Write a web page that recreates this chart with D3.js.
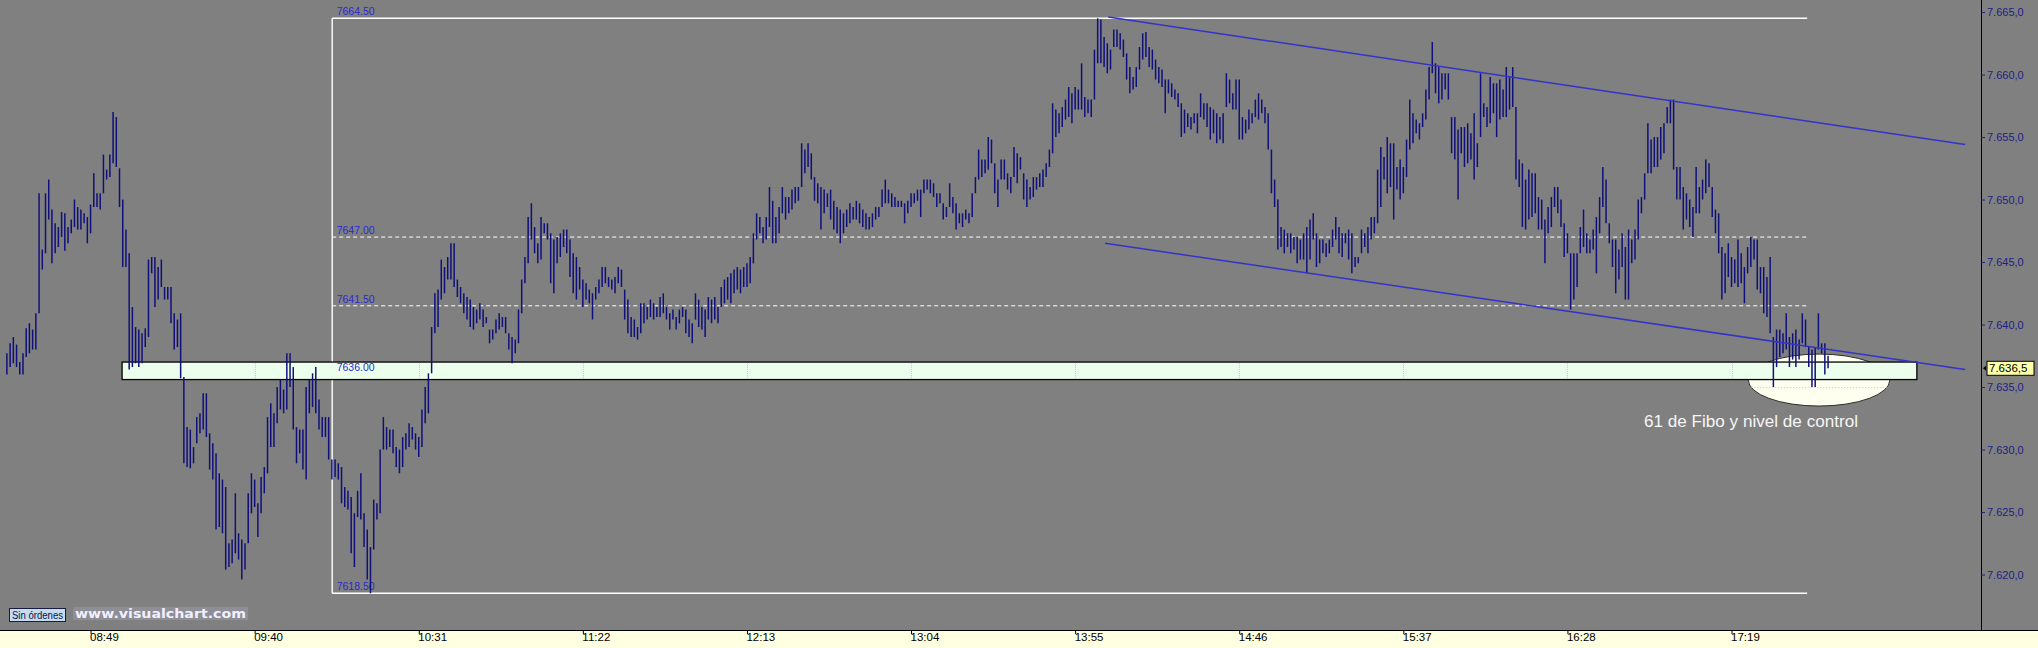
<!DOCTYPE html>
<html><head><meta charset="utf-8">
<script src="https://cdn.jsdelivr.net/npm/d3@7"></script>
<style>html,body{margin:0;padding:0;background:#808080;overflow:hidden}</style>
</head><body><svg id="c" width="2038" height="648"></svg>
<script>
// ---------------- DATA ----------------
const sessionStart = "08:23";          // time of first 1-minute bar
const highs = [
7637.7,7638.5,7639.0,7638.4,7637.0,7637.7,7639.7,7640.1,7639.6,7640.9,
7650.5,7646.0,7650.5,7651.6,7649.2,7648.1,7647.8,7649.0,7648.9,7647.8,
7648.4,7650.0,7649.4,7649.2,7648.9,7648.6,7649.6,7652.1,7650.5,7650.5,
7653.6,7652.4,7653.6,7657.0,7656.6,7652.5,7650.0,7647.6,7645.7,7641.4,
7639.8,7639.6,7639.3,7639.7,7645.2,7645.4,7645.4,7644.6,7645.2,7643.0,
7643.0,7643.0,7640.9,7640.4,7640.9,7635.8,7631.8,7631.6,7630.2,7632.6,
7632.9,7634.5,7634.5,7631.3,7630.5,7629.7,7628.1,7627.6,7627.0,7622.5,
7622.8,7626.5,7623.3,7622.8,7622.5,7626.5,7628.1,7627.6,7625.7,7627.8,
7628.6,7632.6,7633.7,7632.9,7635.0,7635.6,7634.8,7637.7,7637.7,7636.6,
7631.8,7631.6,7631.6,7635.0,7635.6,7636.1,7636.6,7634.0,7632.6,7632.6,
7632.6,7629.2,7629.2,7628.9,7628.6,7627.0,7626.7,7626.2,7624.9,7626.7,
7628.1,7624.9,7623.6,7622.2,7626.0,7625.7,7630.0,7632.6,7631.8,7631.6,
7631.6,7630.2,7630.0,7631.0,7631.3,7632.1,7631.8,7631.3,7631.0,7633.2,
7635.0,7636.1,7639.8,7642.5,7642.8,7645.2,7644.6,7645.4,7646.5,7646.5,
7643.6,7643.0,7642.5,7642.2,7642.0,7641.4,7641.2,7641.7,7641.2,7640.6,
7639.6,7639.6,7640.4,7640.9,7640.6,7640.6,7639.3,7639.0,7638.8,7641.2,
7643.6,7645.4,7648.6,7649.7,7647.8,7646.5,7648.6,7648.1,7648.1,7647.3,
7646.8,7647.0,7647.3,7647.6,7647.6,7646.8,7645.7,7645.4,7644.6,7643.6,
7643.3,7642.8,7642.5,7643.0,7643.6,7644.6,7644.6,7643.8,7643.6,7643.8,
7644.6,7644.4,7642.8,7642.0,7640.6,7640.4,7639.8,7641.7,7641.7,7641.4,
7642.0,7641.7,7641.4,7642.2,7642.5,7641.4,7640.9,7641.2,7640.6,7641.2,
7641.4,7641.2,7640.4,7640.1,7642.5,7642.0,7641.4,7641.2,7642.2,7642.0,
7642.2,7641.4,7643.0,7643.6,7643.8,7644.1,7644.4,7644.6,7644.4,7644.6,
7644.9,7645.4,7647.3,7648.9,7648.6,7647.8,7648.6,7651.0,7649.9,7648.6,
7649.4,7651.0,7650.2,7650.2,7650.8,7651.0,7651.0,7654.5,7654.0,7654.5,
7653.7,7651.8,7651.3,7651.0,7650.8,7650.5,7650.8,7649.9,7649.4,7649.2,
7648.9,7649.2,7649.7,7649.4,7649.9,7649.7,7649.2,7648.9,7648.6,7648.9,
7649.4,7649.4,7650.8,7651.6,7650.8,7650.5,7650.2,7649.9,7649.9,7649.7,
7649.9,7650.5,7650.5,7650.8,7650.8,7651.6,7651.6,7651.6,7651.3,7650.5,
7650.5,7649.7,7649.4,7651.3,7650.2,7649.7,7648.9,7648.9,7649.2,7648.9,
7650.5,7651.8,7654.0,7653.2,7653.2,7655.0,7654.8,7652.9,7651.6,7653.2,
7653.2,7652.1,7651.8,7654.2,7653.7,7653.4,7652.1,7651.6,7651.0,7651.8,
7651.8,7652.1,7652.4,7652.9,7654.0,7657.7,7657.2,7656.9,7657.4,7658.0,
7659.0,7658.5,7659.0,7658.8,7660.9,7658.2,7658.0,7658.0,7662.0,7664.5,
7664.4,7663.0,7662.5,7662.0,7663.6,7663.6,7663.3,7662.8,7661.7,7660.6,
7659.8,7660.6,7662.2,7663.3,7663.4,7662.2,7662.0,7661.2,7660.6,7660.4,
7659.6,7659.6,7659.3,7658.8,7658.5,7657.7,7657.2,7656.9,7656.6,7656.9,
7656.9,7658.5,7657.7,7657.7,7657.4,7657.2,7656.9,7656.6,7656.9,7660.1,
7659.6,7658.5,7659.6,7659.6,7656.6,7656.4,7657.2,7656.9,7658.0,7658.5,
7658.0,7657.4,7656.9,7654.0,7651.6,7650.0,7647.8,7647.6,7647.3,7647.3,
7647.0,7647.0,7646.8,7647.3,7647.8,7648.4,7648.9,7647.3,7646.8,7646.8,
7646.5,7646.8,7647.6,7648.6,7647.8,7647.3,7647.3,7647.6,7647.3,7645.4,
7645.4,7647.6,7647.3,7647.8,7648.6,7648.6,7652.4,7654.2,7653.4,7655.0,
7654.5,7654.5,7652.6,7653.2,7652.6,7654.8,7658.0,7656.9,7656.4,7656.1,
7656.9,7658.8,7660.6,7662.6,7660.9,7660.6,7660.1,7660.1,7660.1,7656.6,
7656.6,7655.6,7655.8,7655.8,7656.1,7655.3,7656.9,7654.5,7660.1,7657.7,
7657.4,7659.8,7659.3,7659.3,7659.6,7658.8,7660.6,7659.8,7660.6,7657.4,
7653.2,7652.9,7651.6,7652.4,7652.1,7652.1,7650.2,7650.0,7648.4,7649.4,
7650.2,7651.0,7651.0,7650.0,7648.1,7647.3,7645.7,7645.7,7645.7,7647.8,
7649.2,7647.3,7646.8,7647.6,7648.6,7650.2,7652.6,7651.6,7648.1,7646.8,
7646.8,7646.0,7647.3,7646.2,7647.6,7646.8,7647.6,7650.0,7650.2,7652.1,
7656.1,7654.8,7655.0,7655.0,7655.8,7656.1,7657.4,7658.0,7658.0,7652.6,
7652.6,7651.0,7650.5,7650.0,7649.4,7652.6,7651.0,7651.6,7653.2,7652.9,
7651.0,7649.2,7648.9,7646.2,7645.7,7646.5,7645.4,7645.2,7646.8,7645.7,
7644.6,7646.2,7647.0,7646.8,7646.8,7644.6,7644.6,7643.8,7645.4,7639.0,
7639.6,7639.6,7639.3,7640.9,7639.0,7639.3,7639.6,7638.8,7640.9,7640.4,
7638.2,7638.0,7638.2,7640.9,7638.5,7638.5,7637.5
];
const lows = [
7636.0,7636.6,7636.9,7636.6,7636.0,7636.0,7637.4,7637.7,7638.0,7638.0,
7640.9,7644.4,7645.7,7648.4,7644.9,7645.7,7646.2,7647.0,7645.9,7646.5,
7647.3,7647.8,7647.6,7647.6,7648.1,7646.5,7647.3,7649.4,7649.4,7649.2,
7650.5,7651.6,7651.8,7652.9,7652.6,7649.4,7644.6,7644.6,7636.4,7636.6,
7636.9,7636.6,7636.9,7638.2,7639.0,7644.1,7641.4,7642.0,7643.0,7642.0,
7642.0,7640.1,7638.0,7638.2,7635.7,7628.9,7628.6,7628.5,7628.9,7630.5,
7631.3,7631.6,7631.0,7628.4,7627.6,7623.6,7623.8,7623.3,7620.4,7620.6,
7620.9,7621.7,7621.2,7619.6,7620.4,7622.5,7624.9,7625.4,7623.0,7624.9,
7626.5,7628.1,7630.2,7630.2,7632.1,7633.2,7632.9,7633.2,7635.0,7631.6,
7628.9,7629.7,7628.4,7627.6,7632.9,7633.4,7632.9,7631.6,7631.0,7631.0,
7629.2,7627.6,7627.8,7627.6,7625.7,7625.4,7625.2,7621.7,7620.6,7624.6,
7624.4,7622.2,7619.6,7618.5,7622.0,7624.4,7624.9,7630.0,7630.0,7630.2,
7629.7,7628.6,7628.1,7628.6,7630.0,7630.2,7630.8,7630.0,7629.4,7630.2,
7632.1,7632.9,7636.1,7639.3,7639.8,7642.0,7642.5,7643.6,7643.6,7643.0,
7642.2,7641.7,7640.9,7640.4,7639.8,7639.6,7640.1,7640.4,7639.8,7640.1,
7638.5,7638.8,7639.3,7639.6,7639.8,7639.3,7638.0,7636.9,7637.7,7638.5,
7640.9,7643.3,7644.9,7646.8,7645.7,7644.9,7645.2,7647.3,7646.8,7643.3,
7642.5,7644.9,7645.4,7646.2,7645.7,7643.8,7642.5,7642.0,7642.8,7641.4,
7642.0,7641.7,7640.4,7642.0,7642.5,7643.0,7643.3,7643.0,7642.8,7642.5,
7643.3,7643.0,7640.4,7639.3,7639.0,7639.0,7638.8,7639.3,7640.1,7640.4,
7640.6,7640.4,7640.6,7640.6,7640.9,7640.4,7639.6,7640.4,7639.6,7640.1,
7640.6,7639.3,7639.0,7638.5,7640.4,7639.8,7639.6,7639.0,7640.4,7640.1,
7640.4,7640.1,7641.4,7641.7,7642.0,7641.7,7642.5,7642.8,7642.5,7643.0,
7643.0,7643.3,7644.9,7646.8,7647.3,7646.5,7646.8,7647.8,7646.5,7646.5,
7647.3,7648.9,7648.4,7648.9,7649.2,7649.7,7649.9,7651.0,7652.1,7652.6,
7651.6,7649.9,7649.7,7647.6,7648.9,7649.4,7648.4,7647.6,7647.3,7646.5,
7647.3,7647.8,7648.1,7648.4,7648.4,7648.1,7647.8,7647.6,7647.6,7647.8,
7648.4,7648.6,7649.4,7649.7,7649.7,7649.4,7649.4,7649.4,7649.4,7648.1,
7648.9,7649.4,7649.7,7649.9,7648.6,7650.5,7650.8,7650.5,7650.2,7649.4,
7649.7,7648.4,7648.6,7649.4,7648.9,7647.6,7648.1,7647.8,7648.4,7648.1,
7648.6,7650.5,7651.6,7651.8,7652.1,7652.4,7652.9,7650.5,7649.4,7651.6,
7651.6,7650.8,7650.5,7651.8,7651.3,7652.4,7650.0,7649.4,7650.0,7650.2,
7650.8,7651.0,7651.0,7651.8,7652.6,7653.7,7655.0,7655.3,7655.8,7656.4,
7656.6,7656.1,7657.2,7657.2,7657.2,7656.6,7656.9,7656.6,7658.0,7660.9,
7660.9,7660.6,7660.1,7660.4,7662.2,7662.2,7662.0,7661.4,7659.6,7658.5,
7658.8,7659.0,7660.4,7661.2,7661.4,7660.6,7660.4,7659.6,7659.3,7659.0,
7656.9,7658.5,7658.2,7658.0,7657.4,7655.0,7655.3,7655.8,7655.6,7656.1,
7655.3,7656.6,7656.4,7655.8,7654.8,7655.3,7654.5,7654.8,7654.5,7657.4,
7657.7,7657.2,7657.2,7654.8,7654.8,7655.3,7655.6,7656.1,7656.6,7656.4,
7656.9,7656.1,7654.0,7650.5,7649.4,7646.0,7646.2,7645.7,7646.2,7645.7,
7646.0,7644.9,7645.2,7645.2,7644.1,7645.2,7646.8,7644.6,7644.9,7645.7,
7645.4,7645.7,7646.2,7646.8,7645.7,7645.4,7646.5,7645.2,7644.1,7644.6,
7644.9,7645.7,7646.2,7645.7,7646.8,7647.3,7648.1,7649.4,7651.6,7650.5,
7651.0,7648.4,7650.8,7650.0,7650.5,7651.8,7654.0,7654.5,7655.3,7654.8,
7655.8,7656.4,7658.0,7660.1,7658.5,7657.7,7658.0,7658.8,7658.0,7653.7,
7653.2,7650.0,7653.7,7652.6,7652.9,7653.2,7651.6,7652.6,7655.0,7656.6,
7655.8,7656.1,7656.9,7655.0,7656.4,7656.6,7656.6,7657.2,7657.4,7651.6,
7651.0,7647.8,7647.6,7648.4,7648.6,7648.9,7647.6,7647.6,7644.9,7647.3,
7647.8,7649.4,7648.9,7647.8,7645.4,7645.7,7641.2,7642.0,7643.0,7645.7,
7646.2,7645.7,7645.7,7646.0,7644.1,7647.3,7649.4,7648.1,7646.5,7644.6,
7642.5,7643.6,7644.6,7642.0,7642.0,7644.9,7645.2,7646.8,7648.9,7650.0,
7652.1,7652.1,7652.6,7652.6,7653.2,7653.7,7656.1,7656.1,7652.4,7650.0,
7650.0,7647.6,7648.4,7647.8,7647.0,7648.9,7648.9,7650.0,7650.5,7651.0,
7648.6,7647.3,7645.7,7642.0,7642.5,7643.8,7643.0,7643.3,7643.0,7643.3,
7641.7,7644.1,7644.6,7645.2,7642.8,7642.5,7640.9,7640.6,7639.3,7635.0,
7636.6,7637.4,7637.7,7638.0,7636.6,7637.2,7636.6,7637.2,7638.5,7638.2,
7636.6,7635.0,7635.0,7638.0,7637.7,7636.0,7636.5
];
const timeLabels  = ["08:49","09:40","10:31","11:22","12:13","13:04","13:55","14:46","15:37","16:28","17:19"];
const priceTicks  = [7620,7625,7630,7635,7640,7645,7650,7655,7660,7665];
const fiboLevels  = [7664.5,7647.0,7641.5,7636.0,7618.5];
const fiboLabels  = ["7664.50","7647.00","7641.50","7636.00","7618.50"];
const fiboSpan    = ["10:04:06","17:42:30"];
const zoneSpan    = ["08:58:48","18:16:36"];
const zoneLevels  = [7637.0,7635.6];
const channelUpper = [["14:05:18",7664.6],["18:31:36",7654.4]];
const channelLower = [["14:04:18",7646.5],["18:31:36",7636.4]];
const ellipseSpan  = ["17:24:12","18:08:12"];
const ellipseLevels = [7637.64,7633.48];
const noteAt = ["16:51:48",7631.8];
const noteText = "61 de Fibo y nivel de control";
const lastPrice = 7636.5;

// ---------------- CHART ----------------
const W=2038,H=648, plotBottom=630, axisX=1981;
const svg=d3.select("#c");
const pHM=d3.timeParse("%H:%M"), pHMS=d3.timeParse("%H:%M:%S");
const t0=pHM(sessionStart);
const barTimes=highs.map((_,i)=>d3.timeMinute.offset(t0,i));
const x=d3.scaleTime().domain([t0,barTimes[barTimes.length-1]])
  .range([6.9,6.9+(highs.length-1)*3.2176]);
const y=d3.scaleLinear().domain([7618.5,7664.5]).range([593.3,18.3]);
const es=d3.formatLocale({decimal:",",thousands:".",grouping:[3],currency:["","€"]});
const fmt=es.format(",.1f");

svg.append("rect").attr("width",W).attr("height",H).attr("fill","#808080");

// control zone ellipse (behind the band)
const ex0=x(pHMS(ellipseSpan[0])), ex1=x(pHMS(ellipseSpan[1]));
const ey0=y(ellipseLevels[0]), ey1=y(ellipseLevels[1]);
const defs=svg.append("defs");
defs.append("clipPath").attr("id","ec").append("ellipse")
  .attr("cx",(ex0+ex1)/2).attr("cy",(ey0+ey1)/2).attr("rx",(ex1-ex0)/2).attr("ry",(ey1-ey0)/2);
svg.append("ellipse").attr("cx",(ex0+ex1)/2).attr("cy",(ey0+ey1)/2)
  .attr("rx",(ex1-ex0)/2).attr("ry",(ey1-ey0)/2)
  .attr("fill","#fffff0").attr("stroke","#2a2a2a").attr("stroke-width",1);
svg.append("line").attr("clip-path","url(#ec)")
  .attr("x1",ex0).attr("x2",ex1).attr("y1",Math.round(y(7635))+0.5).attr("y2",Math.round(y(7635))+0.5)
  .attr("stroke","#c8c8a8").attr("stroke-dasharray","1,2");

// fibo frame
const fx0=x(pHMS(fiboSpan[0])), fx1=x(pHMS(fiboSpan[1]));
fiboLevels.forEach((lv,k)=>{
  const yy=y(lv);
  const solid=(k===0||k===fiboLevels.length-1);
  svg.append("line").attr("x1",fx0).attr("x2",fx1).attr("y1",yy).attr("y2",yy)
    .attr("stroke","#ffffff").attr("stroke-width",solid?1.4:1)
    .attr("stroke-dasharray",solid?null:"4,3");
});
svg.append("line").attr("x1",fx0).attr("x2",fx0).attr("y1",y(fiboLevels[0])).attr("y2",y(fiboLevels[fiboLevels.length-1]))
  .attr("stroke","#ffffff").attr("stroke-width",1.4);

// control band
const zx0=x(pHMS(zoneSpan[0])), zx1=x(pHMS(zoneSpan[1]));
svg.append("rect").attr("x",zx0).attr("y",y(zoneLevels[0])).attr("width",zx1-zx0)
  .attr("height",y(zoneLevels[1])-y(zoneLevels[0]))
  .attr("fill","#ecffec").attr("stroke","#000").attr("stroke-width",1.3);
// faint grid where it shows on the light band
timeLabels.map(pHM).filter(t=>x(t)>zx0+2&&x(t)<zx1-2).forEach(t=>{
  const xx=Math.round(x(t))+0.5;
  svg.append("line").attr("x1",xx).attr("x2",xx).attr("y1",y(zoneLevels[0])+1).attr("y2",y(zoneLevels[1])-1)
    .attr("stroke","#c4d4c4").attr("stroke-dasharray","1,1");
});

// fibo labels
fiboLevels.forEach((lv,k)=>{
  svg.append("text").attr("x",fx0+4.5).attr("y",y(lv)-3.2).text(fiboLabels[k])
    .attr("font-family","Liberation Sans, Arial, sans-serif").attr("font-size",10.5)
    .attr("fill","#2a2ad2");
});

// bars
svg.append("g").selectAll("line").data(barTimes).join("line")
  .attr("x1",d=>x(d)).attr("x2",d=>x(d))
  .attr("y1",(d,i)=>y(highs[i])).attr("y2",(d,i)=>y(lows[i]))
  .attr("stroke","#10107a").attr("stroke-width",1.5);

// channel lines
[channelUpper,channelLower].forEach(seg=>{
  svg.append("line")
    .attr("x1",x(pHMS(seg[0][0]))).attr("y1",y(seg[0][1]))
    .attr("x2",x(pHMS(seg[1][0]))).attr("y2",y(seg[1][1]))
    .attr("stroke","#3333c8").attr("stroke-width",1.5);
});

// note
svg.append("text").attr("x",x(pHMS(noteAt[0]))).attr("y",y(noteAt[1])).text(noteText)
  .attr("font-family","Liberation Sans, Arial, sans-serif").attr("font-size",16)
  .attr("textLength",214).attr("lengthAdjust","spacingAndGlyphs")
  .attr("fill","#f6f6f6");

// bottom strip and axes
svg.append("rect").attr("x",0).attr("y",plotBottom).attr("width",W).attr("height",H-plotBottom).attr("fill","#ffffe1");
svg.append("line").attr("x1",0).attr("x2",W).attr("y1",plotBottom+0.5).attr("y2",plotBottom+0.5).attr("stroke","#000");
svg.append("line").attr("x1",axisX+0.5).attr("x2",axisX+0.5).attr("y1",0).attr("y2",plotBottom).attr("stroke","#000");

const xAxis=d3.axisBottom(x).tickValues(timeLabels.map(pHM)).tickFormat(d3.timeFormat("%H:%M")).tickSize(4).tickPadding(1);
const gx=svg.append("g").attr("transform",`translate(0,${plotBottom})`).call(xAxis);
gx.select(".domain").remove();
gx.selectAll("line").attr("stroke","#000");
gx.selectAll("text").attr("text-anchor","start").attr("dx",-1).attr("dy","0.55em")
  .attr("font-family","Liberation Sans, Arial, sans-serif").attr("font-size",11.5).attr("fill","#000");

const yAxis=d3.axisRight(y).tickValues(priceTicks).tickFormat(fmt).tickSize(4).tickPadding(2);
const gy=svg.append("g").attr("transform",`translate(${axisX},0)`).call(yAxis);
gy.select(".domain").remove();
gy.selectAll("line").attr("stroke","#1e1e7a");
gy.selectAll("text").attr("font-family","Liberation Sans, Arial, sans-serif").attr("font-size",11).attr("fill","#1e1e86");

// last price box
const ly=y(lastPrice);
svg.append("path").attr("d",`M${axisX+2},${ly} l3,-2.5 v5 z`).attr("fill","#000");
svg.append("rect").attr("x",axisX+6).attr("y",ly-7).attr("width",47).attr("height",14)
  .attr("fill","#ffffa8").attr("stroke","#000").attr("stroke-width",1);
svg.append("text").attr("x",axisX+8).attr("y",ly+4).text(fmt(lastPrice))
  .attr("font-family","Liberation Sans, Arial, sans-serif").attr("font-size",11.5).attr("fill","#000");

// footer badges
svg.append("rect").attr("x",9.5).attr("y",608.5).attr("width",56).attr("height",13)
  .attr("fill","#c4dcee").attr("stroke","#1a1a40");
svg.append("text").attr("x",12).attr("y",618.5).text("Sin órdenes")
  .attr("font-family","Liberation Sans, Arial, sans-serif").attr("font-size",10)
  .attr("textLength",51).attr("lengthAdjust","spacingAndGlyphs").attr("fill","#101050");
svg.append("rect").attr("x",73).attr("y",607).attr("width",175).attr("height",13).attr("fill","#8e8e96");
svg.append("text").attr("x",75).attr("y",618).text("www.visualchart.com")
  .attr("font-family","DejaVu Sans, Verdana, sans-serif").attr("font-weight","bold").attr("font-size",12.5)
  .attr("textLength",171).attr("lengthAdjust","spacingAndGlyphs").attr("fill","#f2f0ff");
</script></body></html>
